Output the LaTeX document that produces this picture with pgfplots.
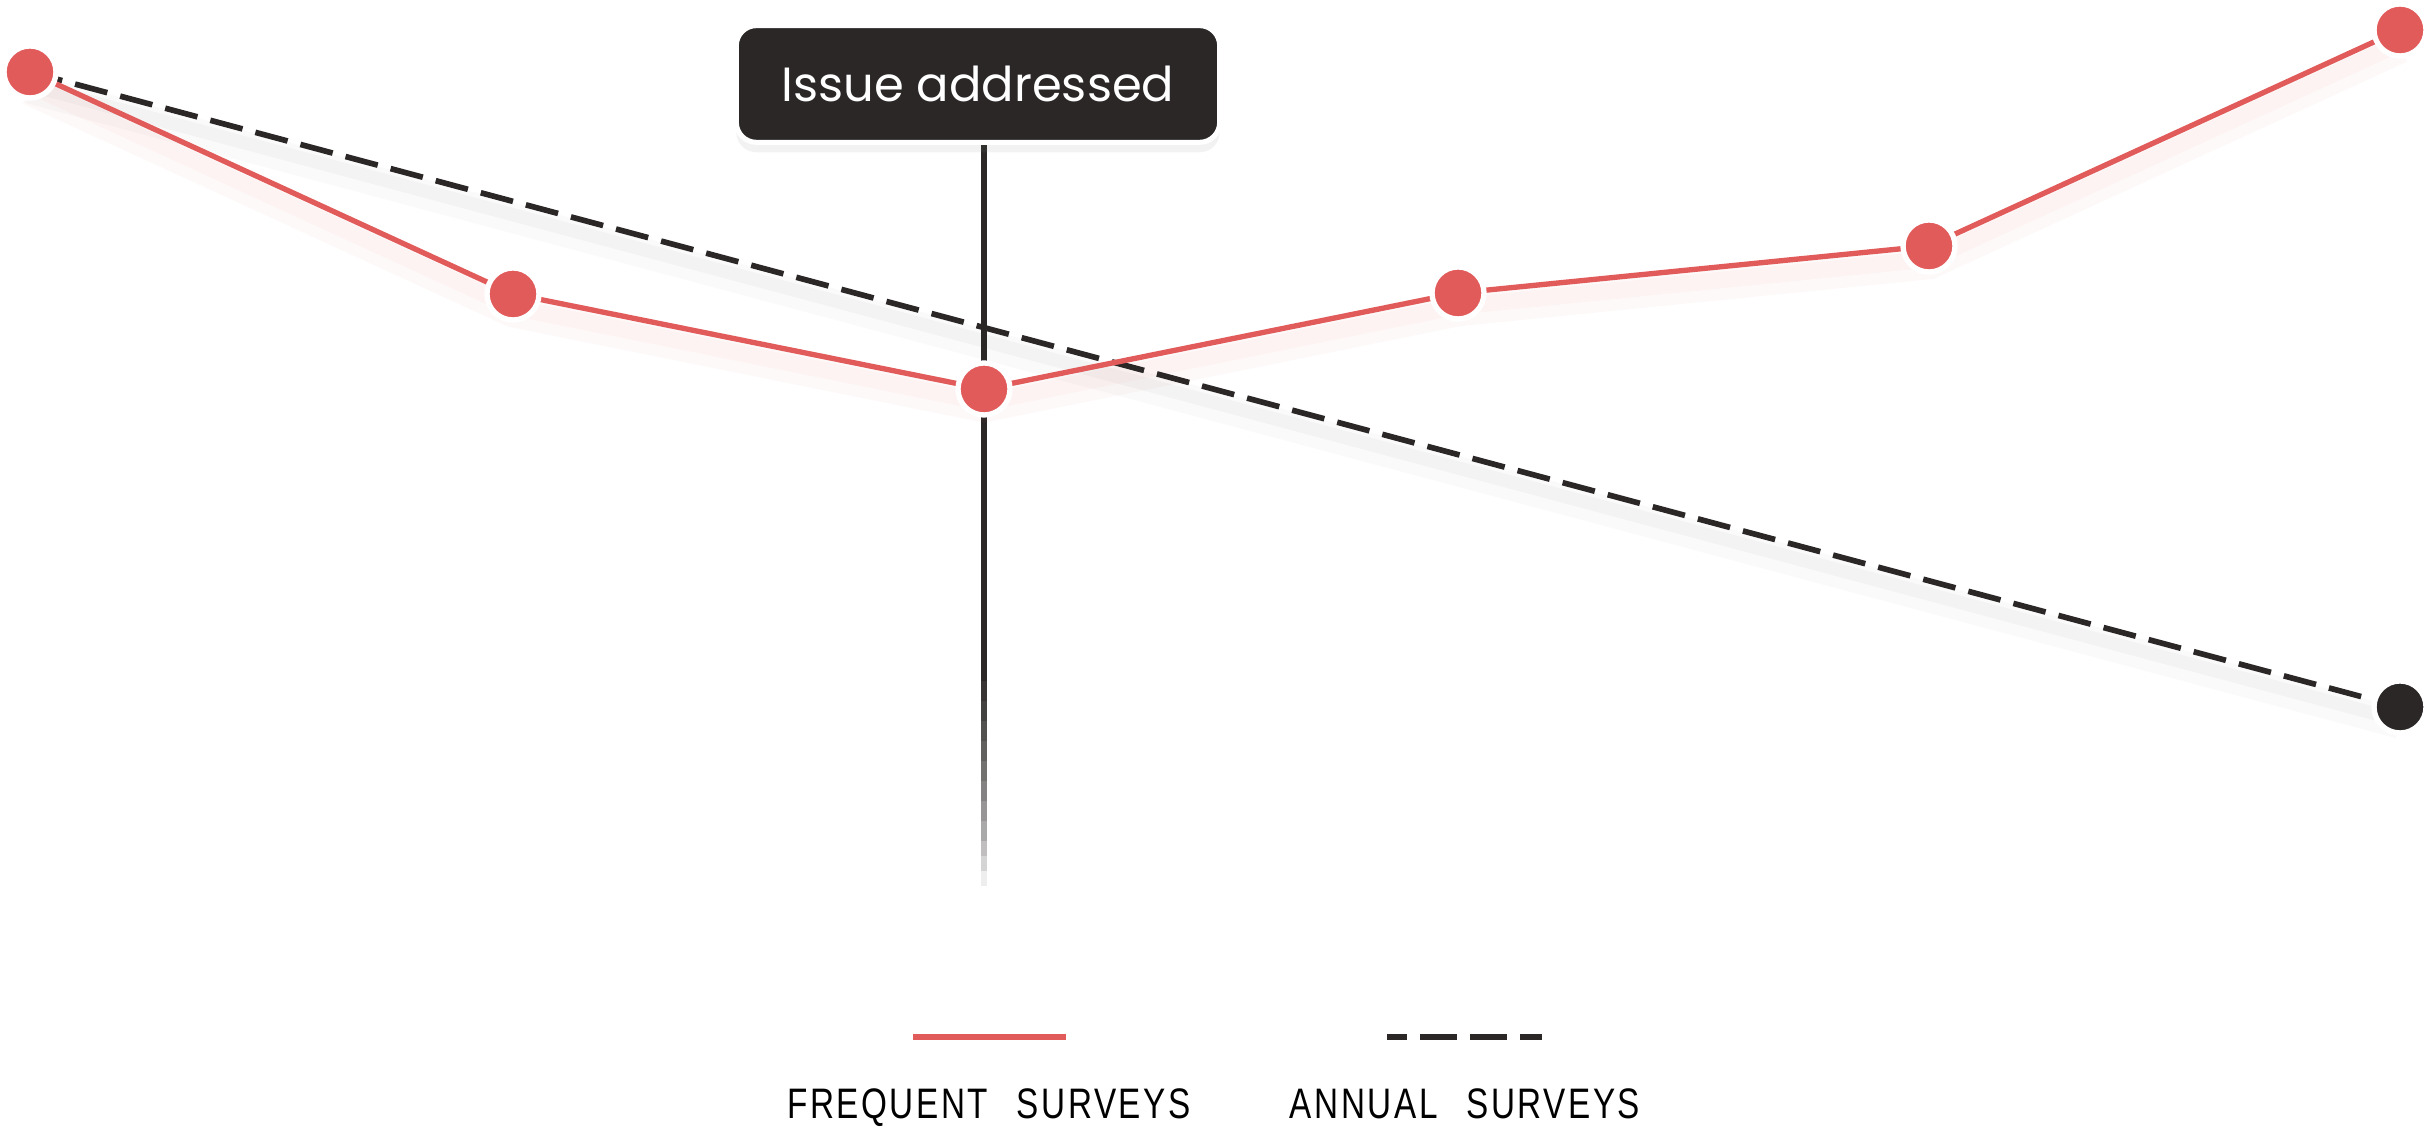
\documentclass[border=0pt]{standalone}
\usepackage{pgfplots}
\pgfplotsset{compat=1.18}
\usepackage{fontspec}
\setmainfont{Liberation Sans}
\newfontfamily\popfont{Poppins}
\newfontfamily\legfont[FakeStretch=0.78,LetterSpace=6]{Liberation Sans}
\usetikzlibrary{shadows}
\definecolor{cred}{HTML}{E25B5B}
\definecolor{cdark}{HTML}{2B2727}
\pgfplotstableread{
x y
0.30 105.9
5.13 83.7
9.84 74.2
14.58 83.8
19.29 88.5
24.00 110.1
}\frequent
\pgfplotstableread{
x y
0.30 105.9
24.00 42.4
}\annual
\begin{document}
\begin{tikzpicture}
\begin{axis}[hide axis, scale only axis, width=729pt, height=339.3pt,
  xmin=0, xmax=24.30, ymin=0, ymax=113.1, clip=false]
% event line
\draw[cdark, line width=1.7pt] (axis cs:9.84,98.6) -- (axis cs:9.84,45.0);
\draw[cdark!94, line width=1.7pt] (axis cs:9.84,45.0) -- (axis cs:9.84,43.0);
\draw[cdark!88, line width=1.7pt] (axis cs:9.84,43.0) -- (axis cs:9.84,41.0);
\draw[cdark!81, line width=1.7pt] (axis cs:9.84,41.0) -- (axis cs:9.84,39.0);
\draw[cdark!74, line width=1.7pt] (axis cs:9.84,39.0) -- (axis cs:9.84,37.0);
\draw[cdark!66, line width=1.7pt] (axis cs:9.84,37.0) -- (axis cs:9.84,35.0);
\draw[cdark!58, line width=1.7pt] (axis cs:9.84,35.0) -- (axis cs:9.84,33.0);
\draw[cdark!49, line width=1.7pt] (axis cs:9.84,33.0) -- (axis cs:9.84,31.0);
\draw[cdark!40, line width=1.7pt] (axis cs:9.84,31.0) -- (axis cs:9.84,29.0);
\draw[cdark!30, line width=1.7pt] (axis cs:9.84,29.0) -- (axis cs:9.84,27.5);
\draw[cdark!20, line width=1.7pt] (axis cs:9.84,27.5) -- (axis cs:9.84,26.0);
\draw[cdark!8, line width=1.7pt] (axis cs:9.84,26.0) -- (axis cs:9.84,24.5);
% soft shadows
\addplot[cdark, line width=9pt, opacity=0.025, forget plot, yshift=-5pt] table[x=x,y=y] {\annual};
\addplot[cdark, line width=4pt, opacity=0.03, forget plot, yshift=-4pt] table[x=x,y=y] {\annual};
\addplot[cred, line width=10pt, opacity=0.035, forget plot, yshift=-5pt] table[x=x,y=y] {\frequent};
\addplot[cred, line width=5pt, opacity=0.04, forget plot, yshift=-4pt] table[x=x,y=y] {\frequent};
% annual
\addplot[cdark, line width=1.7pt, dash pattern=on 10pt off 4pt, forget plot] table[x=x,y=y] {\annual};
\addplot[only marks, mark=*, mark size=7.8pt, mark options={fill=cdark, draw=white, line width=1.6pt}, forget plot]
  coordinates {(24.00,42.4)};
% frequent
\addplot[cred, line width=1.6pt, mark=*, mark size=7.8pt, mark options={fill=cred, draw=white, line width=1.6pt}, forget plot]
  table[x=x,y=y] {\frequent};
% annotation
\node[fill=cdark, draw=white, line width=1.5pt, rounded corners=6pt, minimum width=145pt, minimum height=35pt,
  text=white, font=\popfont\fontsize{14.4}{17}\selectfont,
  drop shadow={opacity=0.10, shadow xshift=0pt, shadow yshift=-3pt}] at (axis cs:9.78,104.7) {Issue addressed};
% legend
\draw[cred, line width=1.7pt] (axis cs:9.13,9.4) -- (axis cs:10.66,9.4);
\draw[cdark, line width=1.7pt, dash pattern=on 11pt off 4pt, dash phase=5pt] (axis cs:13.87,9.4) -- (axis cs:15.42,9.4);
\node[anchor=base, inner sep=0pt, font=\legfont\fontsize{12.8}{14}\selectfont] at (axis cs:9.89,1.2) {FREQUENT\hspace{8.6pt}SURVEYS};
\node[anchor=base, inner sep=0pt, font=\legfont\fontsize{12.8}{14}\selectfont] at (axis cs:14.65,1.2) {ANNUAL\hspace{8.6pt}SURVEYS};
\end{axis}
\pgfresetboundingbox
\path (0,0) rectangle (729pt,339.3pt);
\end{tikzpicture}
\end{document}
